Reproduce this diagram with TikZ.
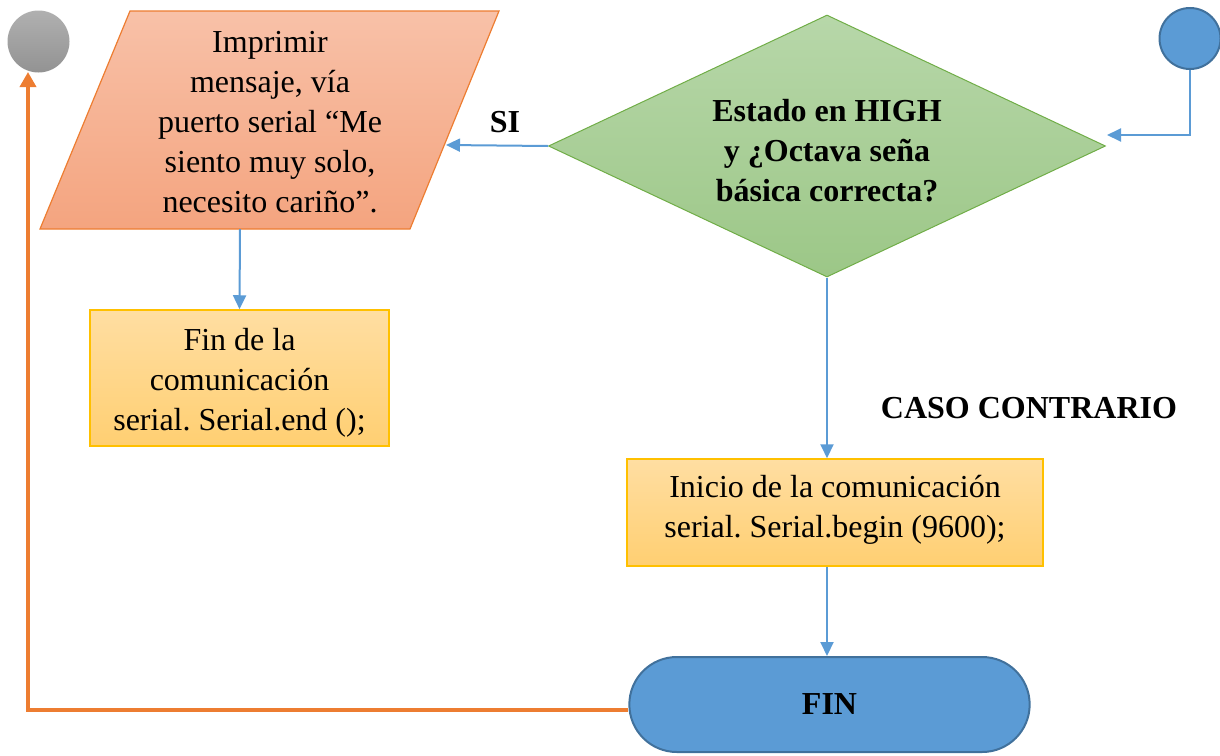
\documentclass[tikz,border=0pt]{standalone}
\usepackage{fontspec}
\setmainfont{Liberation Serif}
\usetikzlibrary{arrows.meta,shapes.geometric,shapes.misc}
\definecolor{flowblue}{HTML}{5B9BD5}
\definecolor{blueedge}{HTML}{41719C}
\definecolor{loopor}{HTML}{ED7D31}
\definecolor{partop}{HTML}{F8C1A8}
\definecolor{parbot}{HTML}{F4A47F}
\definecolor{boxtop}{HTML}{FFDEA2}
\definecolor{boxbot}{HTML}{FFCF72}
\definecolor{boxedge}{HTML}{FFC000}
\definecolor{dectop}{HTML}{B7D7A9}
\definecolor{decbot}{HTML}{9CC787}
\definecolor{decedge}{HTML}{70AD47}
\frenchspacing
\begin{document}
\begin{tikzpicture}[x=1pt,y=-1pt,
  font=\fontsize{32}{40}\selectfont,
  flow/.style={draw=flowblue,line width=2pt,-{Triangle[length=14pt,width=13pt]}},
  procbox/.style={rectangle,draw=boxedge,line width=1.5pt,top color=boxtop,bottom color=boxbot,inner sep=0pt},
  boldtxt/.style={font=\fontsize{32}{40}\bfseries,align=center}]
\useasboundingbox (0,0) rectangle (1220,755);
% connectors (off-page)
\node[circle,minimum size=62pt,inner sep=0pt,top color=gray!62,bottom color=gray!85] (gc) at (38.5,41.5) {};
\node[circle,minimum size=61pt,inner sep=0pt,fill=flowblue,draw=blueedge,line width=2pt] (bc) at (1190,38.5) {};
% input / output
\shade[top color=partop,bottom color=parbot,draw=loopor,line width=1.2pt]
  (130,11) -- (499,11) -- (410,229) -- (40,229) -- cycle;
\node[align=center] (msg) at (270,122) {Imprimir\\mensaje, vía\\puerto serial “Me\\siento muy solo,\\necesito cariño”.};
\coordinate (msgIn) at (446,145);
\coordinate (msgOut) at (240,229);
% decision
\node[diamond,aspect=2.126,minimum width=557pt,minimum height=262pt,inner sep=0pt,top color=dectop,bottom color=decbot,draw=decedge,line width=1pt] (dec) at (827,146) {};
\node[boldtxt] (decTxt) at (827,151) {Estado en HIGH\\y ¿Octava seña\\básica correcta?};
\coordinate (decIn) at (1107,135);
% processes
\node[procbox,minimum width=299pt,minimum height=136pt] (endser) at (239.5,378) {};
\node[align=center] (endserTxt) at (239.5,383) {Fin de la\\comunicación\\serial. Serial.end ();};
\node[procbox,minimum width=416pt,minimum height=107pt] (ini) at (835,512.5) {};
\node[align=center] (iniTxt) at (835,510) {Inicio de la comunicación\\serial. Serial.begin (9600);};
\node[rounded rectangle,minimum width=407pt,minimum height=95pt,fill=flowblue,draw=blueedge,line width=2pt,boldtxt] (fin) at (829.5,704.5) {FIN};
% arrows
\draw[flow] (bc.south) |- (decIn);
\draw[flow] (dec.west) -- (msgIn);
\draw[flow] (msgOut) -- (endser.north);
\draw[flow] (dec.south) -- (dec.south |- ini.north);
\draw[flow] (dec.south |- ini.south) -- (dec.south |- fin.north);
\coordinate (loopA) at (28,710);
\coordinate (loopB) at (28,72);
\draw[draw=loopor,line width=3.5pt,-{Triangle[length=15pt,width=16pt]}] (fin.west |- loopA) -- (loopA) -- (loopB);
% labels
\node[boldtxt] (si) at (505,122) {SI};
\node[boldtxt] (caso) at (1029,408) {CASO CONTRARIO};
\end{tikzpicture}
\end{document}
